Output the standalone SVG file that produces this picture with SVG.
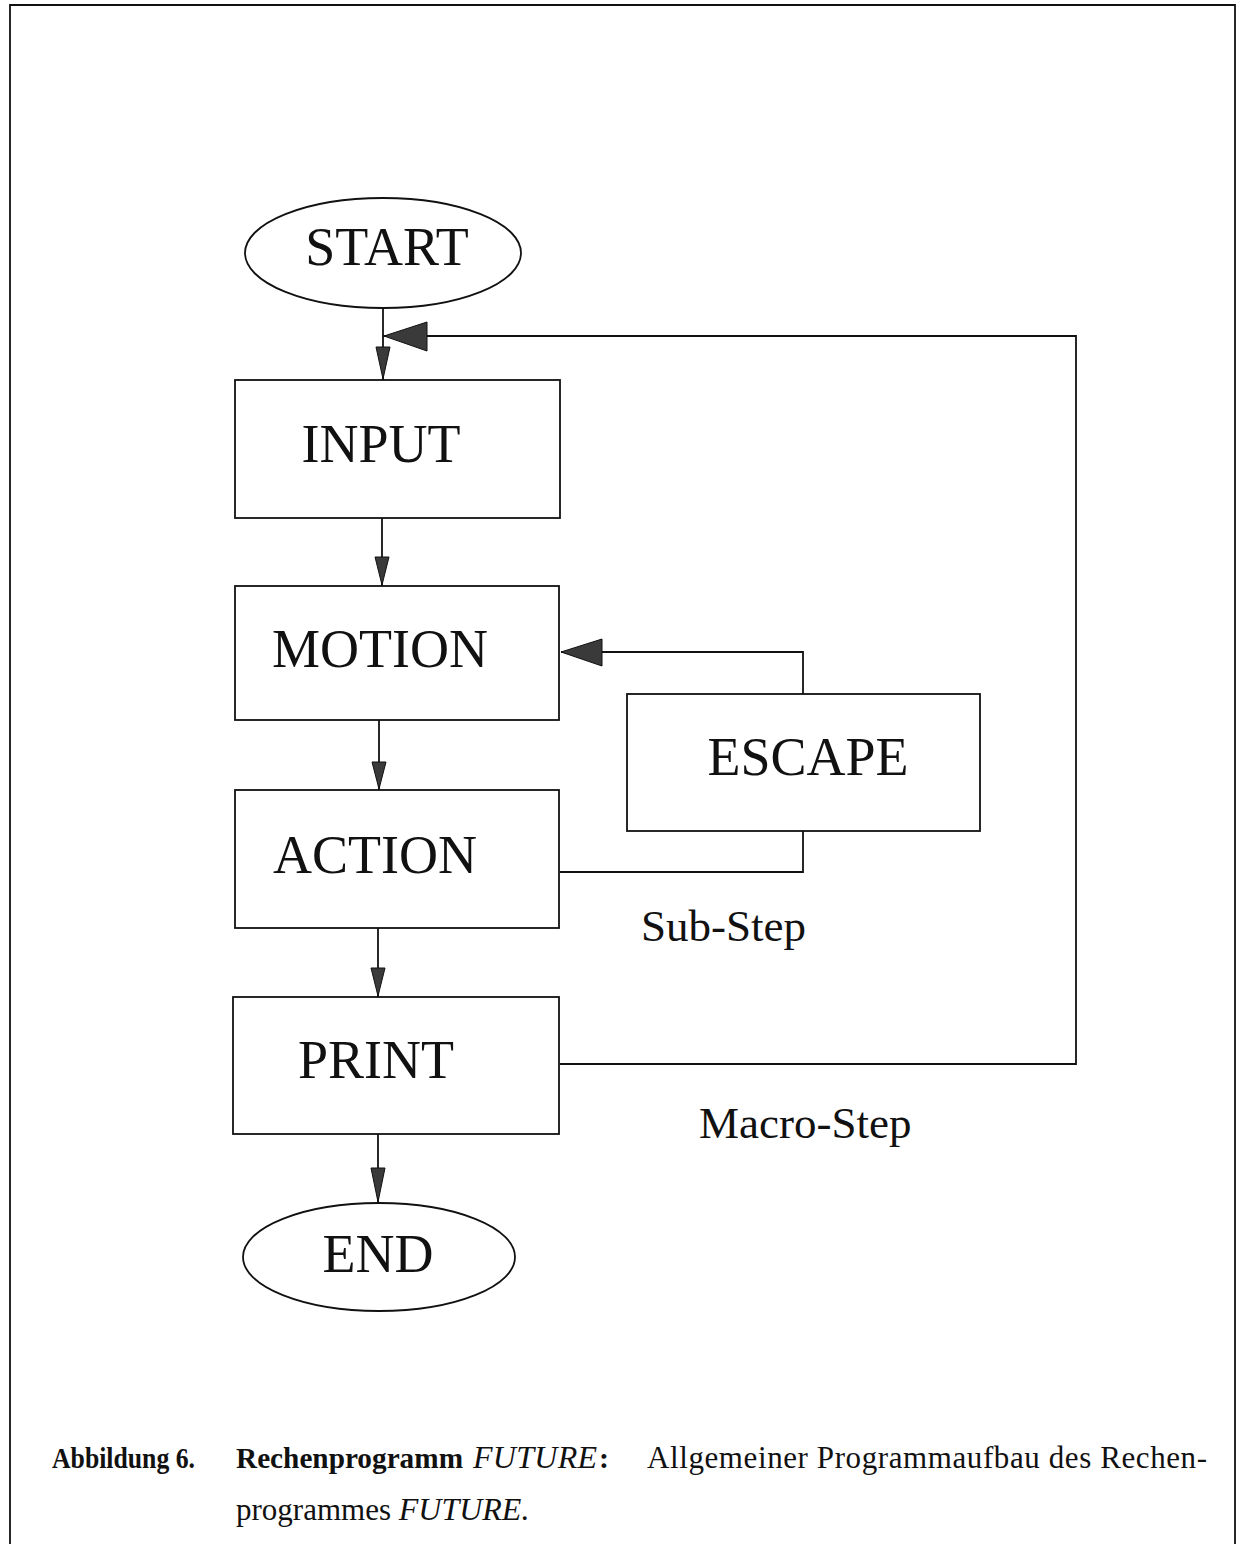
<svg xmlns="http://www.w3.org/2000/svg" width="1240" height="1544" viewBox="0 0 1240 1544">
<style>
.shape{fill:#fff;stroke:#111;stroke-width:1.8}
.line{fill:none;stroke:#111;stroke-width:1.8}
.head{fill:#3a3a3a;stroke:#111;stroke-width:1}
.lbl{font-family:"Liberation Serif","Times New Roman",serif;font-size:54px;fill:#111;text-anchor:middle}
.note{font-family:"Liberation Serif","Times New Roman",serif;font-size:45px;fill:#111}
.cap{font-family:"Liberation Serif","Times New Roman",serif;font-size:31px;fill:#111}
.b{font-weight:bold;font-size:30px}
.i{font-style:italic;font-size:32px}
</style>
<rect width="1240" height="1544" fill="#fff"/>
<path class="line" d="M10,1544 V5 H1235 V1544" stroke-width="2.5"/>
<g id="connectors">
<path class="line" d="M383,308 V380"/>
<polygon class="head" points="376,347 390,347 383,379"/>
<path class="line" d="M560,1064 H1076 V336 H383"/>
<polygon class="head" points="427,322 427,351 384,336"/>
<path class="line" d="M382,518 V586"/>
<polygon class="head" points="375,557 389,557 382,585"/>
<path class="line" d="M379,720 V790"/>
<polygon class="head" points="372,762 386,762 379,789"/>
<path class="line" d="M378,928 V997"/>
<polygon class="head" points="371,968 385,968 378,996"/>
<path class="line" d="M378,1134 V1203"/>
<polygon class="head" points="371,1168 385,1168 378,1202"/>
<path class="line" d="M803,694 V652 H561"/>
<polygon class="head" points="602,639 602,666 561,652"/>
<path class="line" d="M560,872 H803 V831"/>
</g>
<g id="start">
<ellipse class="shape" cx="383" cy="253" rx="138" ry="55"/>
<text class="lbl" x="387" y="265">START</text>
</g>
<g id="input">
<rect class="shape" x="235" y="380" width="325" height="138"/>
<text class="lbl" x="381" y="462">INPUT</text>
</g>
<g id="motion">
<rect class="shape" x="235" y="586" width="324" height="134"/>
<text class="lbl" x="380" y="667">MOTION</text>
</g>
<g id="action">
<rect class="shape" x="235" y="790" width="324" height="138"/>
<text class="lbl" x="375" y="873">ACTION</text>
</g>
<g id="escape">
<rect class="shape" x="627" y="694" width="353" height="137"/>
<text class="lbl" x="808" y="775">ESCAPE</text>
</g>
<g id="print">
<rect class="shape" x="233" y="997" width="326" height="137"/>
<text class="lbl" x="376" y="1078">PRINT</text>
</g>
<g id="end">
<ellipse class="shape" cx="379" cy="1257" rx="136" ry="54"/>
<text class="lbl" x="378" y="1272">END</text>
</g>
<g id="labels">
<text class="note" x="641" y="941">Sub-Step</text>
<text class="note" x="699" y="1138">Macro-Step</text>
</g>
<g id="caption">
<text class="cap b" x="52" y="1468" textLength="143" lengthAdjust="spacingAndGlyphs">Abbildung 6.</text>
<text class="cap b" x="236" y="1468" textLength="227" lengthAdjust="spacingAndGlyphs">Rechenprogramm</text>
<text class="cap i" x="473" y="1468" textLength="124" lengthAdjust="spacing">FUTURE</text>
<text class="cap b" x="599" y="1468">:</text>
<text class="cap" x="647" y="1468" textLength="560" lengthAdjust="spacing">Allgemeiner Programmaufbau des Rechen-</text>
<text class="cap" x="236" y="1520">programmes <tspan class="i">FUTURE.</tspan></text>
</g>
</svg>
